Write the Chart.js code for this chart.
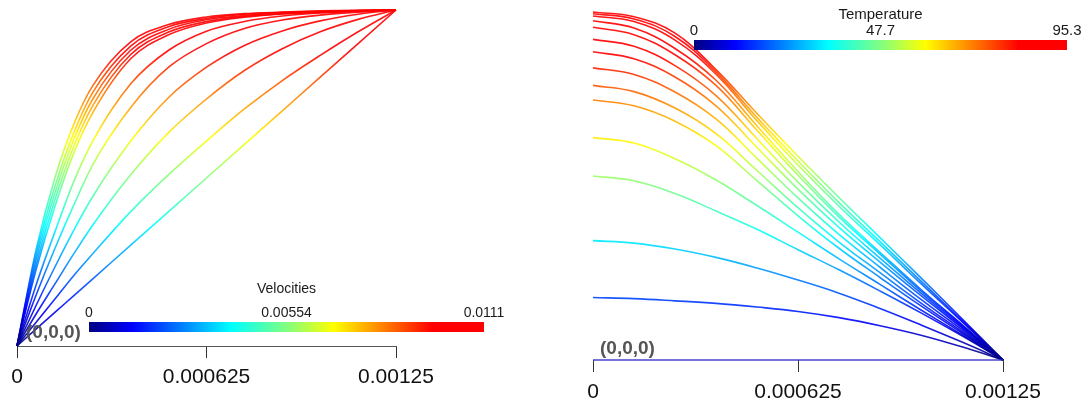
<!DOCTYPE html>
<html>
<head>
<meta charset="utf-8">
<script src="https://cdn.jsdelivr.net/npm/chart.js@4.4.1/dist/chart.umd.min.js"></script>
<style>
  html, body { margin: 0; padding: 0; background: #fff; }
  #wrap { position: relative; width: 1083px; height: 405px; overflow: hidden; }
  #velChart  { position: absolute; left: 0; top: 0; }
  #tempChart { position: absolute; left: 540px; top: 0; }
</style>
</head>
<body>
<div id="wrap">
  <canvas id="velChart" width="540" height="405"></canvas>
  <canvas id="tempChart" width="543" height="405"></canvas>
</div>
<script>
// ---- axis ticks (both panels share the same x range)
const xTicks      = [0, 0.000625, 0.00125];
const xTickLabels = ['0', '0.000625', '0.00125'];

// ---- left panel: velocity profiles
const velMax       = 0.0111;
const velBarLabels = ['0', '0.00554', '0.0111'];
const velPos = [0, 0.0000625, 0.000125, 0.0001875, 0.00025, 0.000375, 0.0005,
                0.000625, 0.00075, 0.000875, 0.001, 0.001125, 0.00125];

const u1  = [0, 0.00316, 0.00555, 0.00733, 0.00860, 0.01005, 0.01062, 0.01087, 0.01098, 0.01103, 0.01107, 0.01109, 0.0111];
const u2  = [0, 0.00300, 0.00527, 0.00705, 0.00838, 0.00991, 0.01055, 0.01082, 0.01096, 0.01102, 0.01106, 0.01108, 0.0111];
const u3  = [0, 0.00283, 0.00505, 0.00683, 0.00816, 0.00977, 0.01046, 0.01078, 0.01092, 0.01100, 0.01104, 0.01108, 0.0111];
const u4  = [0, 0.00266, 0.00483, 0.00660, 0.00794, 0.00963, 0.01037, 0.01072, 0.01089, 0.01098, 0.01103, 0.01107, 0.0111];
const u5  = [0, 0.00250, 0.00461, 0.00638, 0.00771, 0.00949, 0.01028, 0.01067, 0.01086, 0.01097, 0.01102, 0.01107, 0.0111];
const u6  = [0, 0.00200, 0.00377, 0.00544, 0.00677, 0.00866, 0.00977, 0.01040, 0.01072, 0.01090, 0.01100, 0.01106, 0.0111];
const u7  = [0, 0.00167, 0.00322, 0.00466, 0.00599, 0.00788, 0.00921, 0.00999, 0.01049, 0.01077, 0.01093, 0.01103, 0.0111];
const u8  = [0, 0.00133, 0.00261, 0.00383, 0.00494, 0.00677, 0.00821, 0.00921, 0.00993, 0.01041, 0.01074, 0.01096, 0.0111];
const u9  = [0, 0.00105, 0.00205, 0.00305, 0.00400, 0.00566, 0.00705, 0.00816, 0.00910, 0.00982, 0.01038, 0.01079, 0.0111];
const u10 = [0, 0.00078, 0.00155, 0.00233, 0.00305, 0.00444, 0.00566, 0.00677, 0.00783, 0.00877, 0.00960, 0.01038, 0.0111];
const u11 = [0, 0.000555, 0.00111, 0.001665, 0.00222, 0.00333, 0.00444, 0.00555, 0.00666, 0.00777, 0.00888, 0.00999, 0.0111];

// ---- right panel: temperature profiles
const tempMax       = 95.3;
const tempBarLabels = ['0', '47.7', '95.3'];
const tempPos = [0, 0.000125, 0.00025, 0.000375, 0.0005, 0.000625, 0.00075, 0.000875, 0.001, 0.001125, 0.00125];

const t0  = [0, 0, 0, 0, 0, 0, 0, 0, 0, 0, 0];
const t1  = [95.3, 94.0, 89.5, 79.5, 67.5, 55.8, 44.5, 33.5, 22.5, 11.3, 0];
const t2  = [94.8, 93.4, 88.6, 78.9, 66.4, 54.5, 43.1, 32.4, 21.6, 10.8, 0];
const t3  = [94.2, 92.7, 87.6, 78.3, 65.5, 53.4, 42.1, 31.6, 20.9, 10.5, 0];
const t4  = [92.9, 90.9, 85.3, 76.6, 64.1, 51.6, 39.9, 29.5, 19.3, 9.7, 0];
const t5  = [91.1, 89.1, 83.6, 75.2, 62.9, 50.6, 39.2, 29.0, 18.9, 9.5, 0];
const t6  = [87.8, 85.9, 80.6, 72.4, 60.6, 48.7, 37.8, 27.9, 18.3, 9.1, 0];
const t7  = [84.4, 82.5, 77.5, 69.6, 58.2, 46.8, 36.3, 26.8, 17.6, 8.8, 0];
const t8  = [80.0, 78.2, 73.4, 66.0, 55.2, 44.4, 34.4, 25.4, 16.6, 8.3, 0];
const t9  = [75.2, 73.5, 69.0, 62.0, 51.9, 41.7, 32.3, 23.9, 15.6, 7.8, 0];
const t10 = [71.2, 69.6, 65.4, 58.7, 49.1, 39.5, 30.6, 22.6, 14.8, 7.4, 0];
const t11 = [60.9, 59.4, 55.1, 49.3, 42.3, 35.0, 27.7, 20.7, 13.7, 6.9, 0];
const t12 = [50.4, 49.1, 45.6, 40.8, 35.8, 30.2, 24.7, 18.9, 12.9, 6.6, 0];
const t13 = [32.7, 32.0, 30.4, 28.1, 25.2, 21.9, 18.3, 14.1, 9.6, 4.9, 0];
const t14 = [17.1, 16.8, 16.2, 15.5, 14.5, 13.3, 11.6, 9.4, 6.8, 3.6, 0];

// jet-like colour map, as used in the colour bars
const jetStops = [
  [0.00, [0, 0, 128]],
  [0.11, [0, 0, 255]],
  [0.36, [0, 255, 255]],
  [0.50, [128, 255, 128]],
  [0.62, [255, 255, 0]],
  [0.87, [255, 0, 0]],
  [1.00, [255, 0, 0]]
];

const FONT = '"Liberation Sans", Arial, sans-serif';

function jetGradient(ctx, x0, y0, x1, y1, alpha) {
  const g = ctx.createLinearGradient(x0, y0, x1, y1);
  jetStops.forEach(([s, c]) => g.addColorStop(s, `rgba(${c[0]},${c[1]},${c[2]},${alpha})`));
  return g;
}

// line colour follows the value on the y axis
function valueColor(maxVal) {
  return (c) => {
    const chart = c.chart;
    if (!chart.chartArea) return 'blue';
    const y = chart.scales.y;
    return jetGradient(chart.ctx, 0, y.getPixelForValue(0), 0, y.getPixelForValue(maxVal), 0.9);
  };
}

function makeSets(pos, list, maxVal, smooth) {
  return list.map(arr => ({
    data: arr.map((v, i) => ({ x: pos[i], y: v })),
    borderColor: valueColor(maxVal),
    borderWidth: 1.6,
    pointRadius: 0,
    ...smooth,
    fill: false,
    clip: 4
  }));
}

// colour bar, its labels and the origin tag
const overlay = {
  id: 'overlay',
  afterDraw(chart, args, o) {
    const ctx = chart.ctx;
    const b = o.bar;
    ctx.save();
    ctx.fillStyle = jetGradient(ctx, b.x, 0, b.x + b.w, 0, 1);
    ctx.fillRect(b.x, b.y, b.w, b.h);

    ctx.fillStyle = '#1a1a1a';
    ctx.textAlign = 'center';
    ctx.textBaseline = 'middle';
    ctx.font = `${o.titleSize}px ${FONT}`;
    ctx.fillText(o.title, b.x + b.w / 2, o.titleY);
    ctx.font = `${o.labelSize}px ${FONT}`;
    o.labels.forEach((t, i) => ctx.fillText(t, b.x + b.w * i / 2, o.labelY));

    ctx.fillStyle = '#555';
    ctx.textAlign = 'left';
    ctx.font = `bold 19px ${FONT}`;
    ctx.fillText('(0,0,0)', o.origin.x, o.origin.y);
    ctx.restore();
  }
};

function xScale(height, pad, borderOn) {
  return {
    type: 'linear',
    min: 0,
    max: 0.00125,
    afterBuildTicks: s => { s.ticks = xTicks.map(v => ({ value: v })); },
    afterFit: s => { s.height = height; },
    ticks: {
      callback: (v, i) => xTickLabels[i],
      color: '#111',
      font: { family: FONT, size: 21 },
      padding: pad,
      maxRotation: 0,
      autoSkip: false
    },
    grid: { drawOnChartArea: false, drawTicks: true, tickLength: 12, color: '#333' },
    border: { display: borderOn, color: '#555', width: 1 }
  };
}

new Chart(document.getElementById('velChart'), {
  type: 'line',
  data: {
    datasets: makeSets(velPos, [u11, u10, u9, u8, u7, u6, u5, u4, u3, u2, u1], velMax,
                       { cubicInterpolationMode: 'monotone' })
  },
  options: {
    responsive: false,
    animation: false,
    layout: { padding: { left: 17, right: 144, top: 10, bottom: 0 } },
    plugins: {
      legend: { display: false },
      tooltip: { enabled: false },
      overlay: {
        bar: { x: 89, y: 322, w: 395, h: 10 },
        title: 'Velocities', titleSize: 14, titleY: 289,
        labels: velBarLabels, labelSize: 14, labelY: 313,
        origin: { x: 26, y: 333 }
      }
    },
    scales: {
      x: xScale(59, 7, true),
      y: { display: false, min: 0, max: velMax }
    }
  },
  plugins: [overlay]
});

const tempSets = makeSets(tempPos, [t0, t14, t13, t12, t11, t10, t9, t8, t7, t6, t5, t4, t3, t2, t1], tempMax,
                          { tension: 0.4 });
tempSets[0].borderColor = 'rgba(50,50,200,0.9)';

new Chart(document.getElementById('tempChart'), {
  type: 'line',
  data: { datasets: tempSets },
  options: {
    responsive: false,
    animation: false,
    layout: { padding: { left: 53, right: 80, top: 12, bottom: 0 } },
    plugins: {
      legend: { display: false },
      tooltip: { enabled: false },
      overlay: {
        bar: { x: 154, y: 40, w: 373, h: 10 },
        title: 'Temperature', titleSize: 15, titleY: 15,
        labels: tempBarLabels, labelSize: 15, labelY: 31,
        origin: { x: 60, y: 349 }
      }
    },
    scales: {
      x: xScale(45, 8, false),
      y: { display: false, min: 0, max: tempMax }
    }
  },
  plugins: [overlay]
});
</script>
</body>
</html>
